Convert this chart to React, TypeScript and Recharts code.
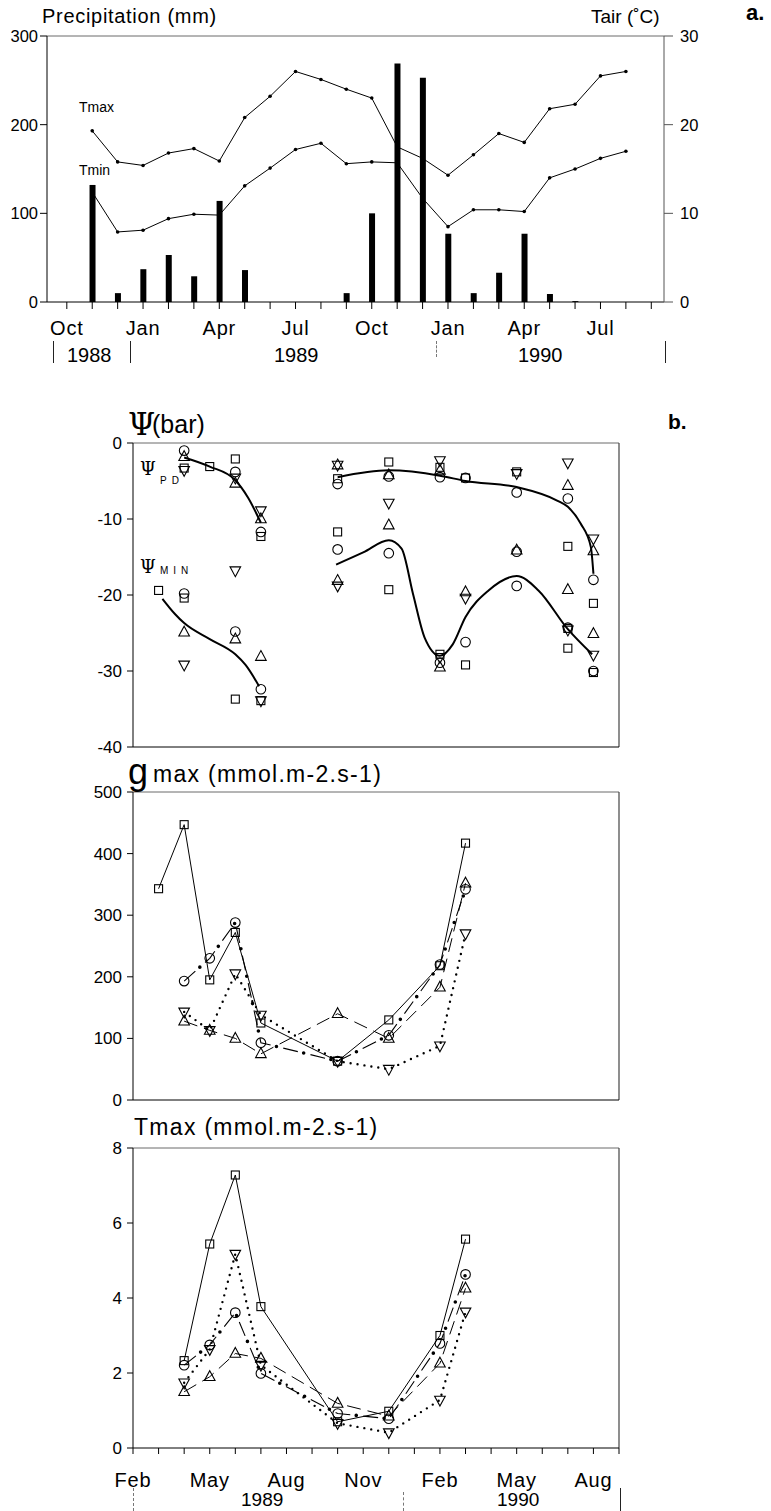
import React from "react";
import { ComposedChart, Bar, Line, Scatter, XAxis, YAxis, ReferenceLine } from "recharts";

const SANS = "'Liberation Sans', Arial, Helvetica, sans-serif";
const SERIF = "'DejaVu Serif', 'Liberation Serif', serif";
const INK = "#000";

// ---- panel a: month index 0 = Oct 1988 ... 23 = Sep 1990
const climateTicks = [0, 1, 2, 3, 4, 5, 6, 7, 8, 9, 10, 11, 12, 13, 14, 15, 16, 17, 18, 19, 20, 21, 22, 23];
const climateTickLabels = ["Oct", "", "", "Jan", "", "", "Apr", "", "", "Jul", "", "", "Oct", "", "", "Jan", "", "", "Apr", "", "", "Jul", "", ""];
const climateMonths = [0, 1, 2, 3, 4, 5, 6, 7, 8, 9, 10, 11, 12, 13, 14, 15, 16, 17, 18, 19, 20, 21, 22];
const precipitation = [0, 132, 10, 37, 53, 29, 114, 36, 0, 0, 0, 10, 100, 269, 253, 77, 10, 33, 77, 9, 1, 0, 0];
const tairMax = [null, 19.3, 15.8, 15.4, 16.8, 17.3, 15.9, 20.8, 23.2, 26.0, 25.1, 24.0, 23.0, 17.5, 16.2, 14.3, 16.6, 19.0, 18.0, 21.8, 22.3, 25.5, 26.0];
const tairMin = [null, 12.4, 7.9, 8.1, 9.4, 9.9, 9.8, 13.1, 15.1, 17.2, 17.9, 15.6, 15.8, 15.7, 11.7, 8.5, 10.4, 10.4, 10.2, 14.0, 15.0, 16.2, 17.0];

// ---- panels b-d: month index 0 = Feb 1989 ... 19 = Sep 1990
const monthTicks = [0, 1, 2, 3, 4, 5, 6, 7, 8, 9, 10, 11, 12, 13, 14, 15, 16, 17, 18, 19];
const seasonTickLabels = ["Feb", "", "", "May", "", "", "Aug", "", "", "Nov", "", "", "Feb", "", "", "May", "", "", "Aug", ""];

type Pair = [number, number];

// b. water potential (bar), one array per species symbol
const psiSquare: Pair[] = [[1, -19.4], [2, -3.3], [2, -20.4], [3, -3.1], [4, -2.1], [4, -33.7], [5, -12.3], [5, -33.9], [8, -4.7], [8, -11.7], [10, -2.5], [10, -19.3], [12, -3.2], [12, -27.8], [13, -4.6], [13, -29.2], [15, -3.8], [17, -13.6], [17, -24.4], [17, -27.0], [18, -21.1], [18, -30.2]];
const psiCircle: Pair[] = [[2, -1.0], [2, -19.8], [4, -3.8], [4, -24.8], [5, -11.7], [5, -32.4], [8, -5.4], [8, -14.0], [10, -4.4], [10, -14.5], [12, -4.5], [12, -28.9], [13, -4.6], [13, -26.2], [15, -6.5], [15, -14.3], [15, -18.8], [17, -7.3], [17, -24.3], [18, -18.0], [18, -30.0]];
const psiUp: Pair[] = [[2, -1.8], [2, -24.9], [4, -5.3], [4, -25.8], [5, -10.0], [5, -28.1], [8, -2.9], [8, -18.1], [10, -4.2], [10, -10.8], [12, -3.6], [12, -29.5], [13, -19.6], [15, -14.1], [17, -5.6], [17, -19.3], [18, -14.2], [18, -25.1]];
const psiDown: Pair[] = [[2, -3.6], [2, -29.2], [4, -4.6], [4, -16.8], [5, -8.9], [5, -33.9], [8, -2.9], [8, -18.8], [10, -7.9], [12, -2.3], [12, -28.2], [13, -20.4], [15, -4.0], [17, -2.6], [17, -24.6], [18, -12.6], [18, -27.9]];
const psiPdFit1: Pair[] = [[2, -1.9], [3, -3.1], [4, -4.9], [4.5, -7.2], [5, -10.5]];
const psiMinFit1: Pair[] = [[1.15, -20.5], [1.64, -22.5], [2, -23.7], [3, -25.8], [4, -27.8], [4.4, -29.2], [4.93, -32.0]];
const psiPdFit2: Pair[] = [[8, -4.5], [10, -3.6], [12, -4.3], [13, -5.0], [15, -5.8], [16.6, -7.6], [17, -8.4], [17.5, -10.6], [17.9, -13.7], [18, -17.2]];
const psiMinFit2: Pair[] = [[7.94, -16.0], [9, -14.4], [10, -12.8], [10.5, -13.9], [10.95, -19.9], [11.4, -25.6], [12, -28.0], [12.5, -26.5], [13, -22.9], [13.9, -19.4], [15, -17.5], [15.85, -19.4], [17, -24.5], [17.95, -27.8]];

// c. g max (mmol m-2 s-1)
const gSquare: Pair[] = [[1, 343], [2, 447], [3, 195], [4, 272], [5, 125], [8, 63], [10, 130], [12, 218], [13, 417]];
const gCircle: Pair[] = [[2, 193], [3, 230], [4, 288], [5, 93], [8, 63], [10, 105], [12, 220], [13, 342]];
const gUp: Pair[] = [[2, 128], [3, 113], [4, 100], [5, 75], [8, 140], [10, 100], [12, 183], [13, 352]];
const gDown: Pair[] = [[2, 143], [3, 113], [4, 205], [5, 138], [8, 63], [10, 50], [12, 88], [13, 270]];

// d. T max (mmol m-2 s-1)
const tSquare: Pair[] = [[2, 2.33], [3, 5.44], [4, 7.28], [5, 3.77], [8, 0.7], [10, 0.98], [12, 3.0], [13, 5.57]];
const tCircle: Pair[] = [[2, 2.21], [3, 2.75], [4, 3.61], [5, 1.99], [8, 0.92], [10, 0.78], [12, 2.79], [13, 4.63]];
const tUp: Pair[] = [[2, 1.5], [3, 1.9], [4, 2.52], [5, 2.39], [8, 1.19], [10, 0.85], [12, 2.26], [13, 4.26]];
const tDown: Pair[] = [[2, 1.74], [3, 2.63], [4, 5.17], [5, 2.21], [8, 0.66], [10, 0.41], [12, 1.28], [13, 3.63]];

const pts = (arr: Pair[]) => arr.map(([x, y]) => ({ x, y }));
const climateRows = climateMonths.map((m, i) => ({ m, precip: precipitation[i], tmax: tairMax[i], tmin: tairMin[i] }));

type Kind = "square" | "circle" | "up" | "down";

function Mark({ kind, cx, cy }: { kind: Kind; cx?: number; cy?: number }) {
  if (cx == null || cy == null) return null;
  const common = { fill: "none", stroke: INK, strokeWidth: 1.1 };
  if (kind === "square") return <rect x={cx - 4} y={cy - 4} width={8} height={8} {...common} />;
  if (kind === "circle") return <circle cx={cx} cy={cy} r={4.8} {...common} />;
  if (kind === "up") return <polygon points={`${cx},${cy - 6} ${cx + 5.3},${cy + 3.8} ${cx - 5.3},${cy + 3.8}`} {...common} />;
  return <polygon points={`${cx},${cy + 6} ${cx + 5.3},${cy - 3.8} ${cx - 5.3},${cy - 3.8}`} {...common} />;
}

const dotOf = (kind: Kind) => (p: any) => <Mark key={`${kind}-${p.index}`} kind={kind} cx={p.cx} cy={p.cy} />;
const shapeOf = (kind: Kind) => (p: any) => <Mark kind={kind} cx={p.cx} cy={p.cy} />;

// month names under an axis, drawn as svg text
const MonthTick = ({ x, y, payload, labels, dy, size }: any) => {
  const s = labels[payload.value] ?? "";
  if (!s) return null;
  return (
    <text x={x} y={y + dy} textAnchor="middle" fontSize={size} fontFamily={SANS} letterSpacing={0.8} fill={INK}>
      {s}
    </text>
  );
};

const tickStyle = { fill: INK, fontSize: 17, fontFamily: SANS };
const frame = "#444";

function Txt({ x, y, size, children, style }: { x: number; y: number; size: number; children: React.ReactNode; style?: React.CSSProperties }) {
  return (
    <div style={{ position: "absolute", left: x, top: y, fontSize: size, lineHeight: 1, fontFamily: SANS, whiteSpace: "nowrap", color: INK, ...style }}>
      {children}
    </div>
  );
}

function Sep({ x, y, h, dashed }: { x: number; y: number; h: number; dashed?: boolean }) {
  return <div style={{ position: "absolute", left: x, top: y, height: h, borderLeft: dashed ? "1px dashed #777" : "1px solid #222" }} />;
}

export default function App() {
  const speciesSeries = (sq: Pair[], ci: Pair[], up: Pair[], dn: Pair[]) => [
    <Line key="sq" data={pts(sq)} dataKey="y" type="linear" stroke={INK} strokeWidth={1} dot={dotOf("square")} isAnimationActive={false} />,
    <Line key="ci" data={pts(ci)} dataKey="y" type="linear" stroke={INK} strokeWidth={1.1} strokeDasharray="15 13" dot={dotOf("circle")} isAnimationActive={false} />,
    <Line key="cid" data={pts(ci)} dataKey="y" type="linear" stroke={INK} strokeWidth={3.6} strokeLinecap="round" strokeDasharray="0 28" strokeDashoffset={7} dot={false} isAnimationActive={false} />,
    <Line key="up" data={pts(up)} dataKey="y" type="linear" stroke={INK} strokeWidth={1} strokeDasharray="14 7" dot={dotOf("up")} isAnimationActive={false} />,
    <Line key="dn" data={pts(dn)} dataKey="y" type="linear" stroke={INK} strokeWidth={2.4} strokeLinecap="round" strokeDasharray="0 7" dot={dotOf("down")} isAnimationActive={false} />,
  ];

  const monthAxis = (height: number, labels: boolean) => (
    <XAxis
      dataKey="x"
      type="number"
      domain={[0, 19]}
      ticks={monthTicks}
      interval={0}
      allowDataOverflow
      height={height}
      tickSize={6}
      tickMargin={0}
      stroke={INK}
      tickLine={{ stroke: INK }}
      tick={labels ? <MonthTick labels={seasonTickLabels} dy={33} size={20} /> : false}
    />
  );

  return (
    <div style={{ position: "relative", width: 771, height: 1511, background: "#fff", overflow: "hidden" }}>
      <style>{`body{margin:0}`}</style>

      {/* a. precipitation and air temperature */}
      <div style={{ position: "absolute", left: 0, top: 0 }}>
        <ComposedChart width={771} height={360} data={climateRows} margin={{ top: 36, right: 0, bottom: 0, left: 0 }}>
          <XAxis
            dataKey="m"
            type="number"
            domain={[-0.78, 23.5]}
            ticks={climateTicks}
            interval={0}
            allowDataOverflow
            height={58}
            tickSize={7}
            tickMargin={0}
            stroke={INK}
            tick={<MonthTick labels={climateTickLabels} dy={26} size={20} />}
          />
          <YAxis yAxisId="p" domain={[0, 300]} ticks={[0, 100, 200, 300]} width={47} tickSize={7} tickMargin={2} stroke={INK} tick={{ ...tickStyle, fontSize: 16.5 }} />
          <YAxis yAxisId="t" orientation="right" domain={[0, 30]} ticks={[0, 10, 20, 30]} width={107} tickSize={9} tickMargin={7} stroke="#555" tick={{ ...tickStyle, fontSize: 16.5 }} />
          <ReferenceLine yAxisId="p" y={300} stroke={frame} strokeWidth={0.8} />
          <Bar yAxisId="p" dataKey="precip" barSize={6} fill={INK} isAnimationActive={false} />
          <Line yAxisId="t" dataKey="tmax" type="linear" stroke={INK} strokeWidth={1} dot={{ r: 1.8, fill: INK, stroke: "none" }} isAnimationActive={false} />
          <Line yAxisId="t" dataKey="tmin" type="linear" stroke={INK} strokeWidth={1} dot={{ r: 1.8, fill: INK, stroke: "none" }} isAnimationActive={false} />
        </ComposedChart>
      </div>
      <Txt x={42} y={6} size={20} style={{ letterSpacing: 0.7 }}>Precipitation (mm)</Txt>
      <Txt x={591} y={7} size={19}>Tair (˚C)</Txt>
      <Txt x={746} y={2} size={22} style={{ fontWeight: 700 }}>a.</Txt>
      <Txt x={79} y={100} size={14}>Tmax</Txt>
      <Txt x={79} y={163} size={14}>Tmin</Txt>
      <Sep x={53} y={341} h={22} />
      <Txt x={67} y={345} size={20}>1988</Txt>
      <Sep x={130} y={341} h={22} />
      <Txt x={274} y={345} size={20}>1989</Txt>
      <Sep x={436} y={341} h={16} dashed />
      <Txt x={518} y={345} size={20}>1990</Txt>
      <Sep x={665} y={341} h={22} />

      {/* b. water potential */}
      <div style={{ position: "absolute", left: 0, top: 400 }}>
        <ComposedChart width={771} height={360} margin={{ top: 43, right: 152, bottom: 0, left: 0 }}>
          {monthAxis(13, false)}
          <YAxis dataKey="y" type="number" domain={[-40, 0]} ticks={[-40, -30, -20, -10, 0]} width={133} tickSize={6} tickMargin={5} stroke={INK} tick={tickStyle} />
          <ReferenceLine y={0} stroke={frame} strokeWidth={0.8} />
          <ReferenceLine x={19} stroke={frame} strokeWidth={1.2} />
          <Line data={pts(psiPdFit1)} dataKey="y" type="monotone" stroke={INK} strokeWidth={2} dot={false} isAnimationActive={false} />
          <Line data={pts(psiMinFit1)} dataKey="y" type="monotone" stroke={INK} strokeWidth={2} dot={false} isAnimationActive={false} />
          <Line data={pts(psiPdFit2)} dataKey="y" type="monotone" stroke={INK} strokeWidth={2} dot={false} isAnimationActive={false} />
          <Line data={pts(psiMinFit2)} dataKey="y" type="monotone" stroke={INK} strokeWidth={2} dot={false} isAnimationActive={false} />
          <Scatter data={pts(psiSquare)} dataKey="y" shape={shapeOf("square")} isAnimationActive={false} />
          <Scatter data={pts(psiCircle)} dataKey="y" shape={shapeOf("circle")} isAnimationActive={false} />
          <Scatter data={pts(psiUp)} dataKey="y" shape={shapeOf("up")} isAnimationActive={false} />
          <Scatter data={pts(psiDown)} dataKey="y" shape={shapeOf("down")} isAnimationActive={false} />
        </ComposedChart>
      </div>
      <Txt x={128} y={409} size={31} style={{ fontFamily: SERIF }}>Ψ</Txt>
      <Txt x={152} y={412} size={25}>(bar)</Txt>
      <Txt x={668} y={411} size={21} style={{ fontWeight: 700 }}>b.</Txt>
      <Txt x={140} y={460} size={18} style={{ fontFamily: SERIF }}>Ψ</Txt>
      <Txt x={160} y={476} size={10} style={{ letterSpacing: 5 }}>PD</Txt>
      <Txt x={140} y={558} size={18} style={{ fontFamily: SERIF }}>Ψ</Txt>
      <Txt x={160} y={566} size={10} style={{ letterSpacing: 5 }}>MIN</Txt>

      {/* c. g max */}
      <div style={{ position: "absolute", left: 0, top: 752 }}>
        <ComposedChart width={771} height={358} margin={{ top: 40, right: 152, bottom: 0, left: 0 }}>
          {monthAxis(10, false)}
          <YAxis dataKey="y" type="number" domain={[0, 500]} ticks={[0, 100, 200, 300, 400, 500]} width={133} tickSize={6} tickMargin={5} stroke={INK} tick={tickStyle} />
          <ReferenceLine y={500} stroke={frame} strokeWidth={0.8} />
          <ReferenceLine x={19} stroke={frame} strokeWidth={1.2} />
          {speciesSeries(gSquare, gCircle, gUp, gDown)}
        </ComposedChart>
      </div>
      <Txt x={128} y={754} size={36}>g</Txt>
      <Txt x={153} y={763} size={23} style={{ letterSpacing: 1.3 }}>max (mmol.m-2.s-1)</Txt>

      {/* d. T max */}
      <div style={{ position: "absolute", left: 0, top: 1110 }}>
        <ComposedChart width={771} height={398} margin={{ top: 38, right: 152, bottom: 0, left: 0 }}>
          {monthAxis(60, true)}
          <YAxis dataKey="y" type="number" domain={[0, 8]} ticks={[0, 2, 4, 6, 8]} width={133} tickSize={6} tickMargin={5} stroke={INK} tick={tickStyle} />
          <ReferenceLine y={8} stroke={frame} strokeWidth={0.8} />
          <ReferenceLine x={19} stroke={frame} strokeWidth={1.2} />
          {speciesSeries(tSquare, tCircle, tUp, tDown)}
        </ComposedChart>
      </div>
      <Txt x={134} y={1116} size={23} style={{ letterSpacing: 1.3 }}>Tmax (mmol.m-2.s-1)</Txt>
      <Sep x={133} y={1488} h={23} dashed />
      <Txt x={241} y={1490} size={19}>1989</Txt>
      <Sep x={403} y={1492} h={19} dashed />
      <Txt x={497} y={1490} size={19}>1990</Txt>
      <Sep x={620} y={1488} h={23} />
    </div>
  );
}
